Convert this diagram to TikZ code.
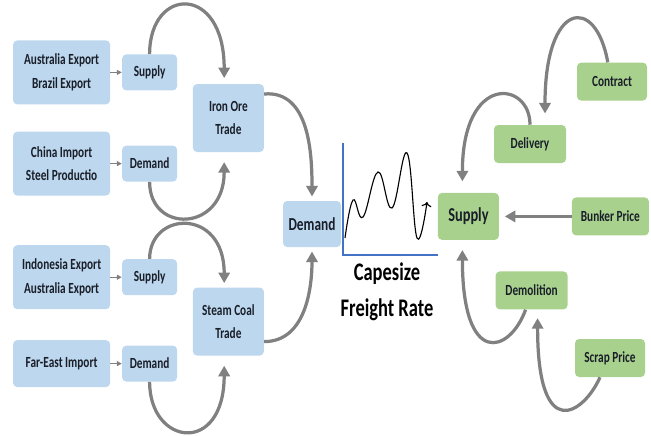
\documentclass[tikz,border=0pt]{standalone}
\usepackage{fontspec}
\setmainfont{Carlito}[FakeStretch=0.73]
\usepackage{xcolor}
\usepackage{tikz}
\usetikzlibrary{shapes,arrows,arrows.meta}
\usetikzlibrary{positioning}
\definecolor{boxblue}{RGB}{189,215,238}
\definecolor{boxgreen}{RGB}{169,209,142}
\definecolor{arrowgray}{RGB}{128,128,128}
\definecolor{axisblue}{RGB}{68,114,196}
\definecolor{inkdark}{RGB}{25,30,40}
\tikzstyle{factor} = [rectangle, fill=boxblue, text=inkdark, align=center,
    rounded corners=3pt, minimum width=2.425cm, minimum height=1.6cm,
    font=\fontsize{11}{17}\selectfont\bfseries]
\tikzstyle{small} = [rectangle, fill=boxblue, text=inkdark, align=center,
    rounded corners=3pt, minimum width=1.375cm, minimum height=0.9cm,
    font=\fontsize{11}{17}\selectfont\bfseries]
\tikzstyle{trade} = [small, minimum width=1.775cm, minimum height=1.7cm]
\tikzstyle{shipbox} = [rectangle, fill=boxgreen, text=inkdark, align=center,
    rounded corners=3pt, minimum width=1.8cm, minimum height=0.95cm,
    font=\fontsize{11}{17}\selectfont\bfseries]
\tikzstyle{line} = [draw, arrowgray, line width=0.8pt, -{Triangle[length=3.5pt,width=3.5pt]}]
\tikzstyle{curvearrow} = [draw, arrowgray, line width=2.3pt, -{Triangle[length=7.5pt,width=8pt]}]

\begin{document}
\begin{tikzpicture}[node distance = 2.2cm, auto]
  \useasboundingbox (0,0) rectangle (16.275,-10.875);
  % Place nodes
  \node [factor] (src1) at (1.54,-1.81) {Australia Export\\Brazil Export};
  \node [factor, below of=src1, node distance=2.28cm] (src2) {China Import\\Steel Productio};
  \node [factor, below of=src2, node distance=2.84cm] (src3) {Indonesia Export\\Australia Export};
  \node [factor, below of=src3, node distance=2.16cm, minimum height=1.175cm] (src4) {Far-East Import};

  \node [small, right of=src1] (sup1) {Supply};
  \node [small, right of=src2] (dem1) {Demand};
  \node [small, right of=src3] (sup2) {Supply};
  \node [small, right of=src4] (dem2) {Demand};

  \node [trade] (iron) at (5.71,-2.95) {Iron Ore\\Trade};
  \node [trade] (coal) at (5.71,-8.04) {Steam Coal\\Trade};

  \node [small, minimum width=1.45cm, minimum height=1.15cm,
         font=\fontsize{13}{15}\selectfont\bfseries] (demand) at (7.8,-5.6) {Demand};

  \node [shipbox, minimum width=1.525cm, minimum height=1.175cm,
         font=\fontsize{14}{16}\selectfont\bfseries] (supply) at (11.71,-5.41) {Supply};
  \node [shipbox, right of=supply, node distance=3.55cm, minimum width=1.925cm] (bunker) {Bunker Price};
  \node [shipbox] (delivery) at (13.25,-3.6) {Delivery};
  \node [shipbox, minimum width=1.75cm] (contract) at (15.3,-2.04) {Contract};
  \node [shipbox] (demolition) at (13.29,-7.26) {Demolition};
  \node [shipbox, minimum width=1.75cm] (scrap) at (15.25,-8.95) {Scrap Price};

  % freight rate chart
  \draw [axisblue, line width=1.6pt] (8.575,-3.575) -- (8.575,-6.375) -- (10.95,-6.375);
  \draw [->, line width=0.8pt] plot [smooth, tension=0.7] coordinates
    {(8.625,-5.95) (8.825,-5.0) (9.075,-5.425) (9.45,-4.3) (9.8,-5.2)
     (10.175,-3.825) (10.425,-5.95) (10.675,-5.05)};
  \node [align=center, text=black, font=\fontsize{18}{26}\selectfont\bfseries] (rate) at (9.675,-7.29) {Capesize\\Freight Rate};

  % factors into trades
  \path [line] (src1) -- (sup1);
  \path [line] (src2) -- (dem1);
  \path [line] (src3) -- (sup2);
  \path [line] (src4) -- (dem2);

  \path [curvearrow, shorten >=4pt] (sup1.north) .. controls +(0,1.7) and +(0,2.5) .. ([xshift=-3pt]iron.north);
  \path [curvearrow, shorten >=7pt] (dem1.south) .. controls +(0,-1.3) and +(0,-2.0) .. ([xshift=-3pt]iron.south);
  \path [curvearrow, shorten >=3pt] ([yshift=0.6cm]iron.east) to [out=5, in=90] (demand.north);

  \path [curvearrow, shorten >=3pt] (sup2.north) .. controls +(0,1.2) and +(0,2.0) .. ([xshift=-3pt]coal.north);
  \path [curvearrow, shorten >=7pt] (dem2.south) .. controls +(0,-1.6) and +(0,-2.5) .. ([xshift=-3pt]coal.south);
  \path [curvearrow, shorten >=3pt] ([yshift=-0.5cm]coal.east) to [out=0, in=-90] (demand.south);

  % supply side
  \path [curvearrow, shorten >=8pt] ([xshift=-3pt]contract.north) .. controls +(-0.3,1.7) and +(0,3.1) .. ([xshift=0.375cm]delivery.north);
  \path [curvearrow, shorten >=8pt] (delivery.north) .. controls +(0,1.1) and +(0,3.0) .. ([xshift=-0.15cm]supply.north);
  \path [curvearrow, shorten >=4pt] (bunker.west) -- (bunker.west -| supply.east);
  \path [curvearrow, shorten >=7pt] ([xshift=-0.15cm]demolition.south) .. controls +(-0.4,-1.1) and +(0,-3.2) .. ([xshift=-0.15cm]supply.south);
  \path [curvearrow, shorten >=6pt] ([xshift=-0.25cm]scrap.south) .. controls +(-0.4,-0.9) and +(0,-3.4) .. ([xshift=0.15cm]demolition.south);
\end{tikzpicture}
\end{document}
